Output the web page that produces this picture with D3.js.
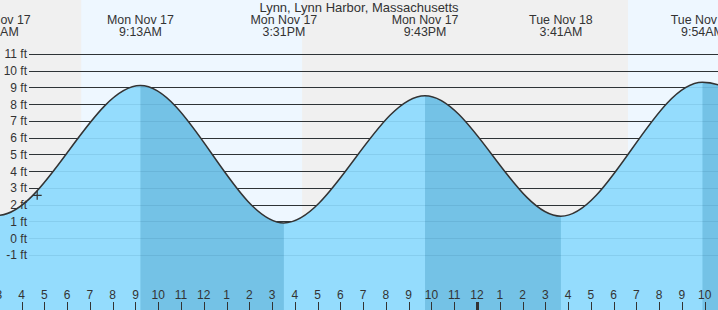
<!DOCTYPE html>
<html>
<head>
<meta charset="utf-8">
<script src="https://cdn.jsdelivr.net/npm/d3@7"></script>
<style>
  html, body { margin: 0; padding: 0; background: #fff; }
  svg { display: block; font-family: "Liberation Sans", Arial, sans-serif; }
</style>
</head>
<body>
<svg id="chart" width="718" height="310"></svg>
<script>
// ---------------- data ----------------
const title = "Lynn, Lynn Harbor, Massachusetts";
const viewStart = "2025-11-17T03:03";
const viewEnd = "2025-11-18T10:35";

const tideTimes = ["2025-11-16T20:50", "2025-11-17T02:56", "2025-11-17T09:13", "2025-11-17T15:31",
                   "2025-11-17T21:43", "2025-11-18T03:41", "2025-11-18T09:54", "2025-11-18T16:10"];
const tideHeights = [8.8, 1.35, 9.1, 0.9, 8.5, 1.3, 9.3, 0.8];
const tideDayLabels = ["Sun Nov 16", "Mon Nov 17", "Mon Nov 17", "Mon Nov 17",
                       "Mon Nov 17", "Tue Nov 18", "Tue Nov 18", "Tue Nov 18"];
const tideTimeLabels = ["8:50PM", "2:56AM", "9:13AM", "3:31PM", "9:43PM", "3:41AM", "9:54AM", "4:10PM"];

const sunriseTimes = ["2025-11-17T06:37", "2025-11-18T06:38"];
const sunsetTimes = ["2025-11-17T16:19", "2025-11-18T16:18"];

const yTickValues = [-1, 0, 1, 2, 3, 4, 5, 6, 7, 8, 9, 10, 11];
const nowTime = "2025-11-17T04:41";
const nowHeight = 2.55;

// ---------------- setup ----------------
const W = 718, H = 310;
const parse = d3.utcParse("%Y-%m-%dT%H:%M");
const svg = d3.select("#chart");

const x = d3.scaleUtc().domain([parse(viewStart), parse(viewEnd)]).range([0, W]);
const y = d3.scaleLinear().domain([0, 11]).range([238, 53.75]);

const tides = tideTimes.map((t, i) => ({ t: parse(t), h: tideHeights[i], day: tideDayLabels[i], time: tideTimeLabels[i] }));

const C = {
  night: "#f0f0f0",
  day: "#eef7ff",
  water: "#94dcfd",
  waterDark: "#74c2e6",
  grid: "#333",
  text: "#333"
};

// ---------------- background (day / night) ----------------
svg.append("rect").attr("x", 0).attr("y", 0).attr("width", W).attr("height", H).attr("fill", C.night);
const dayRanges = sunriseTimes.map((s, i) => [parse(s), parse(sunsetTimes[i])]);
svg.append("g").selectAll("rect").data(dayRanges).join("rect")
  .attr("x", d => x(d[0]))
  .attr("y", 0)
  .attr("width", d => Math.max(0, Math.min(W, x(d[1])) - x(d[0])))
  .attr("height", H)
  .attr("fill", C.day);

// ---------------- grid lines (above water) ----------------
svg.append("g").selectAll("line").data(yTickValues).join("line")
  .attr("x1", 29).attr("x2", W)
  .attr("y1", d => Math.round(y(d)) + 0.5).attr("y2", d => Math.round(y(d)) + 0.5)
  .attr("stroke", C.grid).attr("stroke-width", 1);

// ---------------- water ----------------
const area = d3.area()
  .x(d => x(d.t))
  .y0(H)
  .y1(d => y(d.h))
  .curve(d3.curveMonotoneX);
const line = d3.line()
  .x(d => x(d.t))
  .y(d => y(d.h))
  .curve(d3.curveMonotoneX);

svg.append("path").datum(tides).attr("d", area).attr("fill", C.water);

// falling-tide bands (high -> following low)
const falling = [];
for (let i = 0; i < tides.length - 1; i++) {
  if (tides[i].h > tides[i + 1].h) falling.push([tides[i].t, tides[i + 1].t]);
}
const defs = svg.append("defs");
defs.append("clipPath").attr("id", "fallClip")
  .selectAll("rect").data(falling).join("rect")
  .attr("x", d => x(d[0])).attr("y", 0)
  .attr("width", d => x(d[1]) - x(d[0])).attr("height", H);
svg.append("path").datum(tides).attr("d", area).attr("fill", C.waterDark).attr("clip-path", "url(#fallClip)");

// faint grid lines over water
svg.append("g").selectAll("line").data(yTickValues).join("line")
  .attr("x1", 29).attr("x2", W)
  .attr("y1", d => Math.round(y(d)) + 0.5).attr("y2", d => Math.round(y(d)) + 0.5)
  .attr("stroke", "rgba(0,50,90,0.09)").attr("stroke-width", 1);

// tide curve outline
svg.append("path").datum(tides).attr("d", line)
  .attr("fill", "none").attr("stroke", "#333").attr("stroke-width", 1.5);

// ---------------- now marker ----------------
const nx = x(parse(nowTime)), ny = y(nowHeight);
svg.append("path")
  .attr("d", `M${nx - 4.5},${ny}H${nx + 4.5}M${nx},${ny - 4.5}V${ny + 4.5}`)
  .attr("stroke", "#333").attr("stroke-width", 1.2).attr("fill", "none");

// ---------------- y labels ----------------
svg.append("g").selectAll("text").data(yTickValues).join("text")
  .attr("x", 27).attr("y", d => y(d) + 4.5)
  .attr("text-anchor", "end")
  .attr("font-size", 12)
  .attr("fill", C.text)
  .text(d => d + " ft");

// ---------------- hour axis ----------------
const [d0, d1] = x.domain();
const hours = d3.utcHour.range(d3.utcHour.floor(d0), d1);
const hourFmt = d3.utcFormat("%-I");
const axisG = svg.append("g");
axisG.selectAll("line").data(hours).join("line")
  .attr("x1", d => Math.round(x(d)) + 0.5).attr("x2", d => Math.round(x(d)) + 0.5)
  .attr("y1", 302).attr("y2", H)
  .attr("stroke", "#333")
  .attr("stroke-width", d => d.getUTCHours() === 0 ? 3 : 1);
axisG.selectAll("text").data(hours).join("text")
  .attr("x", d => x(d)).attr("y", 299)
  .attr("text-anchor", "middle")
  .attr("font-size", 12)
  .attr("fill", C.text)
  .text(d => hourFmt(d));

// ---------------- header ----------------
svg.append("text").attr("x", W / 2).attr("y", 12)
  .attr("text-anchor", "middle").attr("font-size", 13).attr("fill", C.text)
  .text(title);
const visibleTides = tides.filter(d => x(d.t) > -30 && x(d.t) < W + 30);
const hdr = svg.append("g").selectAll("g").data(visibleTides).join("g")
  .attr("transform", d => `translate(${x(d.t)},0)`);
hdr.append("text").attr("y", 23.5).attr("text-anchor", "middle").attr("font-size", 12.4)
  .attr("fill", C.text).text(d => d.day);
hdr.append("text").attr("y", 36).attr("text-anchor", "middle").attr("font-size", 12.4)
  .attr("fill", C.text).text(d => d.time);
</script>
</body>
</html>
